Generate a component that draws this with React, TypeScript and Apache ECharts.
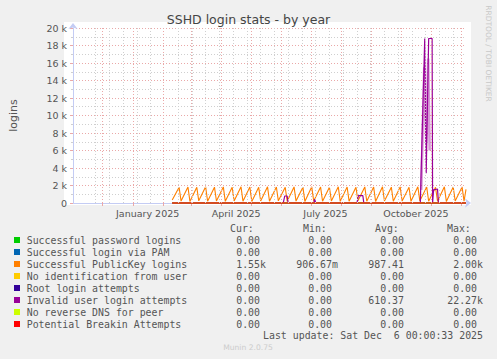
import React, { useEffect, useRef } from 'react';
import * as echarts from 'echarts';

// x values are days since 2024-11-01 (graph spans 400 days, ending 2025-12-06)
const X_MIN = 0;
const X_MAX = 400;

const xLabelDays = [76, 166, 257, 349];
const xLabels = ['January 2025', 'April 2025', 'July 2025', 'October 2025'];
const monthStartDays = [30, 61, 92, 120, 151, 181, 212, 242, 273, 304, 334, 365, 395];
const minorGridDays = [23, 37, 51, 65, 79, 107, 121, 135, 149, 163, 177, 191, 205, 219, 233, 247, 261, 275, 289, 303, 317, 331, 345, 359, 373, 387];

const seriesNames = [
  'Successful password logins',
  'Successful login via PAM',
  'Successful PublicKey logins',
  'No identification from user',
  'Root login attempts',
  'Invalid user login attempts',
  'No reverse DNS for peer',
  'Potential Breakin Attempts',
];
const seriesColors = ['#00CC00', '#0066B3', '#FF8000', '#FFCC00', '#330099', '#990099', '#CCFF00', '#FF0000'];

const curValues = ['0.00', '0.00', '1.55k', '0.00', '0.00', '0.00', '0.00', '0.00'];
const minValues = ['0.00', '0.00', '906.67m', '0.00', '0.00', '0.00', '0.00', '0.00'];
const avgValues = ['0.00', '0.00', '987.41', '0.00', '0.00', '610.37', '0.00', '0.00'];
const maxValues = ['0.00', '0.00', '2.00k', '0.00', '0.00', '22.27k', '0.00', '0.00'];

// zero-valued series (data present from day 101 to the end)
const zeroDays = [101, 400];
const zeroVals = [0, 0];

// Successful PublicKey logins (sawtooth)
const pubkeyDays = [101, 108, 110, 117, 119, 126, 128, 135, 137, 144, 146, 153, 155, 162, 164, 171, 173, 180, 182, 189, 191, 198, 200, 207, 209, 216, 218, 225, 227, 234, 236, 243, 245, 252, 254, 261, 263, 270, 272, 279, 281, 288, 290, 297, 299, 306, 308, 315, 317, 324, 326, 333, 335, 342, 344, 351, 353, 360, 362, 369, 371, 378, 380, 387, 389, 396, 398, 400];
const pubkeyVals = [340, 1800, 220, 1830, 180, 1790, 250, 1850, 200, 1810, 230, 1840, 190, 1800, 240, 1860, 210, 1820, 180, 1790, 230, 1850, 200, 1830, 250, 1800, 190, 1840, 220, 1810, 180, 1850, 240, 1820, 200, 1790, 230, 1860, 190, 1830, 210, 1800, 250, 1840, 200, 1820, 180, 1850, 230, 1810, 200, 1840, 220, 1800, 190, 1860, 240, 1830, 200, 1790, 210, 1850, 180, 1820, 230, 1840, 200, 1550];

// Invalid user login attempts
const invalidDays = [101, 214, 215.5, 218, 219, 245, 246, 247, 289, 290.5, 295, 296, 353.5, 358, 359.5, 362, 365.5, 366, 367, 371, 372, 400];
const invalidVals = [0, 0, 800, 800, 0, 0, 450, 0, 0, 850, 850, 0, 0, 18800, 3400, 18800, 18800, 0, 1500, 1600, 0, 0];

// lighter halo of the invalid-user spike
const invalidHaloDays = [354.5, 357.5, 359.5, 361.5, 363];
const invalidHaloVals = [1500, 15500, 7000, 16500, 6000];

const zip = (xs: number[], ys: number[]) => xs.map((x, i) => [x, ys[i]]);

const FONT = 'DejaVu Sans';
const MONO = 'DejaVu Sans Mono';
const GRID_RED = '#EAA8A8';
const GRID_GRAY = '#CFCFCF';
const AXIS_COLOR = '#C4CCF4';

function buildLegendGraphics() {
  const els: any[] = [];
  const headers = ['Cur:', 'Min:', 'Avg:', 'Max:'];
  const headerX = [230, 303, 375, 447];
  headers.forEach((h, i) => {
    els.push({
      type: 'text', x: headerX[i], y: 228.5,
      style: { text: h, font: `9.9px "${MONO}"`, fill: '#555', textAlign: 'left', textVerticalAlign: 'middle' },
    });
  });
  const cols = [curValues, minValues, avgValues, maxValues];
  const colEnd = [260, 332, 404, 477];
  seriesNames.forEach((name, i) => {
    const y = 240 + 12 * i;
    els.push({ type: 'rect', shape: { x: 14, y: y - 3, width: 6, height: 6 }, style: { fill: seriesColors[i] } });
    els.push({
      type: 'text', x: 26.7, y,
      style: { text: name, font: `9.9px "${MONO}"`, fill: '#555', textAlign: 'left', textVerticalAlign: 'middle' },
    });
    cols.forEach((col, c) => {
      const m = col[i].match(/^([\d.]+)([a-zA-Z]?)$/);
      const num = m ? m[1] : col[i];
      const suf = m ? m[2] : '';
      els.push({
        type: 'text', x: colEnd[c], y,
        style: { text: num, font: `9.9px "${MONO}"`, fill: '#555', textAlign: 'right', textVerticalAlign: 'middle' },
      });
      if (suf) {
        els.push({
          type: 'text', x: colEnd[c], y,
          style: { text: suf, font: `9.9px "${MONO}"`, fill: '#555', textAlign: 'left', textVerticalAlign: 'middle' },
        });
      }
    });
  });
  els.push({
    type: 'text', x: 483, y: 335,
    style: { text: 'Last update: Sat Dec  6 00:00:33 2025', font: `9.9px "${MONO}"`, fill: '#555', textAlign: 'right', textVerticalAlign: 'middle' },
  });
  els.push({
    type: 'text', x: 248, y: 347,
    style: { text: 'Munin 2.0.75', font: `7.6px "${FONT}"`, fill: '#CCCCCC', textAlign: 'center', textVerticalAlign: 'middle' },
  });
  return els;
}

export default function App() {
  const ref = useRef<HTMLDivElement>(null);
  useEffect(() => {
    document.body.style.margin = '0';
    const chart = echarts.init(ref.current!, null, { renderer: 'svg', width: 497, height: 359 });

    const lineBase = (name: string, color: string, data: number[][], z = 3, width = 1) => ({
      name, type: 'line', data, symbol: 'none', showSymbol: false, silent: true, clip: false, z,
      lineStyle: { color, width }, itemStyle: { color }, emphasis: { disabled: true },
    });

    const option: any = {
      animation: false,
      backgroundColor: '#F0F0F0',
      title: {
        text: 'SSHD login stats - by year', left: 'center', top: 8,
        textStyle: { fontFamily: FONT, fontSize: 12.5, fontWeight: 'normal', color: '#444' },
      },
      grid: { left: 66, top: 28, width: 400, height: 175, containLabel: false },
      xAxis: {
        type: 'value', min: X_MIN, max: X_MAX,
        axisLine: { show: true, lineStyle: { color: AXIS_COLOR }, symbol: ['none', 'arrow'], symbolSize: [7, 6], symbolOffset: [0, 5] },
        axisTick: { show: true, customValues: monthStartDays, length: 3, lineStyle: { color: GRID_RED } },
        axisLabel: {
          customValues: xLabelDays, margin: 5, fontFamily: FONT, fontSize: 9.5, color: '#555',
          formatter: (v: number) => xLabels[xLabelDays.indexOf(v)] ?? '',
        },
        splitLine: { show: false },
      },
      yAxis: {
        type: 'value', min: 0, max: 20000, interval: 2000,
        name: 'logins', nameLocation: 'middle', nameGap: 54, nameRotate: 90,
        nameTextStyle: { fontFamily: FONT, fontSize: 11, color: '#555' },
        axisLine: { show: true, lineStyle: { color: AXIS_COLOR }, symbol: ['none', 'arrow'], symbolSize: [7, 6], symbolOffset: [0, 5] },
        axisTick: { show: true, length: 3, lineStyle: { color: GRID_RED } },
        minorTick: { show: true, splitNumber: 2, length: 2, lineStyle: { color: GRID_GRAY } },
        axisLabel: {
          margin: 6, fontFamily: FONT, fontSize: 9.5, color: '#555',
          formatter: (v: number) => (v === 0 ? '0' : `${v / 1000} k`),
        },
        splitLine: { show: true, lineStyle: { color: GRID_RED, type: [1, 2], width: 1 } },
        minorSplitLine: { show: true, lineStyle: { color: GRID_GRAY, type: [1, 2], width: 1 } },
      },
      graphic: [
        { type: 'rect', z: -10, shape: { x: 64, y: 22, width: 407, height: 183 }, style: { fill: '#FFFFFF' } },
        {
          type: 'text', x: 488.5, y: 53.5, rotation: -Math.PI / 2,
          style: { text: 'RRDTOOL / TOBI OETIKER', font: `7.5px "${FONT}"`, fill: '#C8C8C8', textAlign: 'center', textVerticalAlign: 'middle' },
        },
        ...buildLegendGraphics(),
      ],
      series: [
        {
          name: 'grid', type: 'line', data: [], silent: true, z: 1, symbol: 'none',
          markLine: {
            silent: true, symbol: ['none', 'none'], label: { show: false }, animation: false,
            emphasis: { disabled: true },
            data: [
              ...minorGridDays.map((d) => ({ xAxis: d, lineStyle: { color: GRID_GRAY, type: [1, 2], width: 1 } })),
              ...monthStartDays.map((d) => ({ xAxis: d, lineStyle: { color: GRID_RED, type: [1, 2], width: 1 } })),
            ],
          },
        },
        lineBase(seriesNames[0], seriesColors[0], zip(zeroDays, zeroVals)),
        lineBase(seriesNames[1], seriesColors[1], zip(zeroDays, zeroVals)),
        lineBase(seriesNames[2], seriesColors[2], zip(pubkeyDays, pubkeyVals), 3, 1.1),
        lineBase(seriesNames[3], seriesColors[3], zip(zeroDays, zeroVals)),
        lineBase(seriesNames[4], seriesColors[4], zip(zeroDays, zeroVals)),
        lineBase('halo', 'rgba(153,0,153,0.4)', zip(invalidHaloDays, invalidHaloVals), 3, 2.5),
        lineBase(seriesNames[5], seriesColors[5], zip(invalidDays, invalidVals), 3, 1.2),
        lineBase(seriesNames[6], seriesColors[6], zip(zeroDays, zeroVals)),
        lineBase(seriesNames[7], seriesColors[7], zip(zeroDays, zeroVals)),
      ],
    };
    chart.setOption(option);
    return () => chart.dispose();
  }, []);
  return <div ref={ref} style={{ width: 497, height: 359 }} />;
}
